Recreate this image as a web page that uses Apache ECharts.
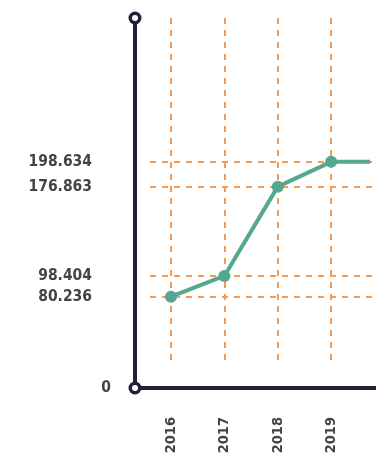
<!DOCTYPE html>
<html>
<head>
<meta charset="utf-8">
<script src="https://cdn.jsdelivr.net/npm/echarts@6/dist/echarts.min.js"></script>
<style>
  html, body { margin: 0; padding: 0; background: #fff; }
  #chart-container { width: 376px; height: 457px; }
</style>
</head>
<body>
<div id="chart-container"></div>
<script>
// data
var years = [2016, 2017, 2018, 2019, 2020];
var values = [80.236, 98.404, 176.863, 198.634, 198.634];
var yTicks = [0, 80.236, 98.404, 176.863, 198.634];
var gridYears = [2016, 2017, 2018, 2019];

var axisColor = "#1f2236";
var dashColor = "#f39a55";
var lineColor = "#55a890";
var labelFont = "DejaVu Sans Condensed";

var chartDom = document.getElementById("chart-container");
var myChart = echarts.init(chartDom);

// dashed guides: horizontal at each value, vertical at each year
var guides = [];
yTicks.slice(1).forEach(function (v) {
  guides.push([{ x: 150, yAxis: v }, { x: "100%", yAxis: v }]);
});
gridYears.forEach(function (yr) {
  guides.push([{ xAxis: yr, y: 18 }, { xAxis: yr, y: 365 }]);
});

var yRange = { min: 0, max: 325 };

var option = {
  animation: false,
  grid: { left: 135, right: 8, top: 18, bottom: 69, containLabel: false, outerBoundsMode: "none" },
  xAxis: {
    type: "value",
    min: 2015.326,
    max: 2019.69,
    splitLine: { show: false },
    axisTick: { show: false },
    axisLine: {
      lineStyle: { color: axisColor, width: 4 },
      symbol: ["none", "rect"],
      symbolSize: [4, 16],
    },
    axisLabel: {
      customValues: gridYears,
      rotate: 90,
      margin: 29,
      color: "#444",
      fontFamily: labelFont,
      fontWeight: "bold",
      fontSize: 14.5,
      formatter: function (v) { return String(v); },
    },
  },
  yAxis: [
    {
      type: "value",
      position: "left",
      min: yRange.min,
      max: yRange.max,
      splitLine: { show: false },
      axisTick: { show: false },
      axisLine: {
        show: true,
        lineStyle: { color: axisColor, width: 4 },
        symbol: ["circle", "circle"],
        symbolSize: [13, 13],
      },
      axisLabel: {
        customValues: yTicks,
        margin: 24,
        color: "#444",
        fontFamily: labelFont,
        fontWeight: "bold",
        fontSize: 15.5,
        formatter: function (v) {
          return v === 0 ? "{z|0}" : "{n|" + v.toFixed(3) + "}";
        },
        rich: {
          z: { fontFamily: labelFont, fontWeight: "bold", fontSize: 15.5, color: "#444" },
          n: { fontFamily: labelFont, fontWeight: "bold", fontSize: 15.5, color: "#444", padding: [0, 19, 0, 0] },
        },
      },
    },
    {
      // white centres for the ring ends of the axis
      type: "value",
      position: "left",
      offset: 0,
      min: yRange.min,
      max: yRange.max,
      splitLine: { show: false },
      axisTick: { show: false },
      axisLabel: { show: false },
      axisLine: {
        show: true,
        lineStyle: { color: "#fff", width: 0 },
        symbol: ["circle", "circle"],
        symbolSize: [6, 6],
      },
    },
  ],
  series: [
    {
      type: "line",
      data: years.map(function (yr, i) { return [yr, values[i]]; }),
      z: 5,
      symbol: "circle",
      symbolSize: 12,
      itemStyle: { color: lineColor },
      lineStyle: { color: lineColor, width: 4 },
      markLine: {
        silent: true,
        z: 1,
        symbol: ["none", "none"],
        label: { show: false },
        lineStyle: { color: dashColor, width: 2, type: [6, 6] },
        emphasis: { disabled: true },
        data: guides,
      },
    },
  ],
};

myChart.setOption(option);
</script>
</body>
</html>
